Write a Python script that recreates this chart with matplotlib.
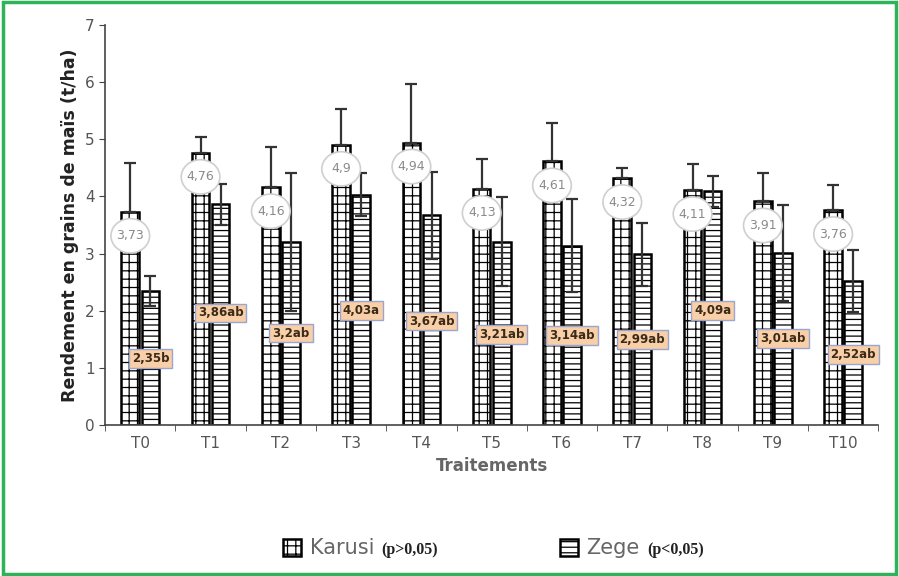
import matplotlib.pyplot as plt
import numpy as np
from matplotlib.patches import Rectangle, Ellipse

traitements = ["T0", "T1", "T2", "T3", "T4", "T5", "T6", "T7", "T8", "T9", "T10"]
karusi = [3.73, 4.76, 4.16, 4.90, 4.94, 4.13, 4.61, 4.32, 4.11, 3.91, 3.76]
karusi_err = [0.86, 0.28, 0.71, 0.62, 1.03, 0.53, 0.68, 0.18, 0.46, 0.50, 0.44]
zege = [2.35, 3.86, 3.20, 4.03, 3.67, 3.21, 3.14, 2.99, 4.09, 3.01, 2.52]
zege_err = [0.26, 0.36, 1.21, 0.37, 0.76, 0.77, 0.82, 0.55, 0.27, 0.84, 0.54]
karusi_txt = ["3,73", "4,76", "4,16", "4,9", "4,94", "4,13", "4,61", "4,32", "4,11", "3,91", "3,76"]
zege_txt = ["2,35b", "3,86ab", "3,2ab", "4,03a", "3,67ab", "3,21ab", "3,14ab", "2,99ab", "4,09a", "3,01ab", "2,52ab"]
# hauteur des etiquettes Zege (comme sur la figure d'origine)
zege_lab_y = [1.16, 1.96, 1.61, 2.00, 1.82, 1.59, 1.56, 1.49, 2.01, 1.52, 1.23]

plt.rcParams['hatch.linewidth'] = 0.9
fig = plt.figure(figsize=(8.99, 5.76), dpi=100)
ax = fig.add_axes([0.117, 0.262, 0.86, 0.695])

x = np.arange(len(traitements))
w = 0.25
d = 0.143

b1 = ax.bar(x - d, karusi, w, color="white", edgecolor="black", linewidth=1.8, hatch="++", label="Karusi")
b2 = ax.bar(x + d, zege, w, color="white", edgecolor="black", linewidth=1.8, hatch="---", label="Zege")
ax.errorbar(x - d, karusi, yerr=[np.zeros(len(karusi)), karusi_err], fmt="none", ecolor="#333333",
            elinewidth=1.6, capsize=4, capthick=1.6)
ax.errorbar(x + d, zege, yerr=zege_err, fmt="none", ecolor="#333333", elinewidth=1.6, capsize=4, capthick=1.6)

for i in range(len(x)):
    ax.add_patch(Ellipse((x[i] - d, karusi[i] - 0.42), 0.55, 0.6, facecolor="white", edgecolor="#cfcfcf",
                         linewidth=1.2, zorder=4))
    ax.text(x[i] - d, karusi[i] - 0.42, karusi_txt[i], ha="center", va="center", fontsize=9, color="#8a8a8a",
            zorder=5)
    ax.text(x[i] + d, zege_lab_y[i], zege_txt[i], ha="center", va="center", fontsize=8.5, color="#3a2a1a",
            fontweight="bold", zorder=5,
            bbox=dict(boxstyle="square,pad=0.25", fc="#f8cfa6", ec="#9aa6d0", lw=1.0))

ax.set_xlim(-0.5, len(x) - 0.5)
ax.set_ylim(0, 7)
ax.set_yticks(range(8))
ax.set_xticks(x)
ax.set_xticklabels(traitements)
ax.set_xticks(np.arange(-0.5, len(x), 1), minor=True)
ax.tick_params(axis="x", which="major", length=0, labelsize=11, labelcolor="#555555", pad=8)
ax.tick_params(axis="x", which="minor", length=4, color="#444444")
ax.tick_params(axis="y", labelsize=11, labelcolor="#555555", color="#444444", length=4)
ax.spines["top"].set_visible(False)
ax.spines["right"].set_visible(False)
ax.spines["left"].set_color("#444444")
ax.spines["bottom"].set_color("#444444")
ax.spines["left"].set_linewidth(1.2)
ax.spines["bottom"].set_linewidth(1.2)

ax.set_ylabel("Rendement en grains de maïs (t/ha)", fontsize=12.5, fontweight="bold", color="#222222")
ax.set_xlabel("Traitements", fontsize=12, fontweight="bold", color="#666666", labelpad=4)

leg = fig.legend(handles=[b1, b2], labels=["Karusi", "Zege"], loc="center", bbox_to_anchor=(0.513, 0.048),
                 ncol=2, frameon=False, fontsize=15, handlelength=0.9, handleheight=0.9,
                 columnspacing=8.9, handletextpad=0.4)
for t in leg.get_texts():
    t.set_color("#666666")

fig.canvas.draw()
r = fig.canvas.get_renderer()
for t, p in zip(leg.get_texts(), ["(p>0,05)", "(p<0,05)"]):
    bb = t.get_window_extent(r)
    fig.text(bb.x1 / fig.bbox.width + 0.008, (bb.y0 + bb.y1) / 2 / fig.bbox.height - 0.003, p,
             fontsize=11.5, fontweight="bold", family="Liberation Serif", color="#222222", va="center")

fig.patches.append(Rectangle((0.003, 0.003), 0.994, 0.994, transform=fig.transFigure, fill=False,
                             edgecolor="#2fb35a", linewidth=2.5))

fig.savefig("out.png", dpi=100)
